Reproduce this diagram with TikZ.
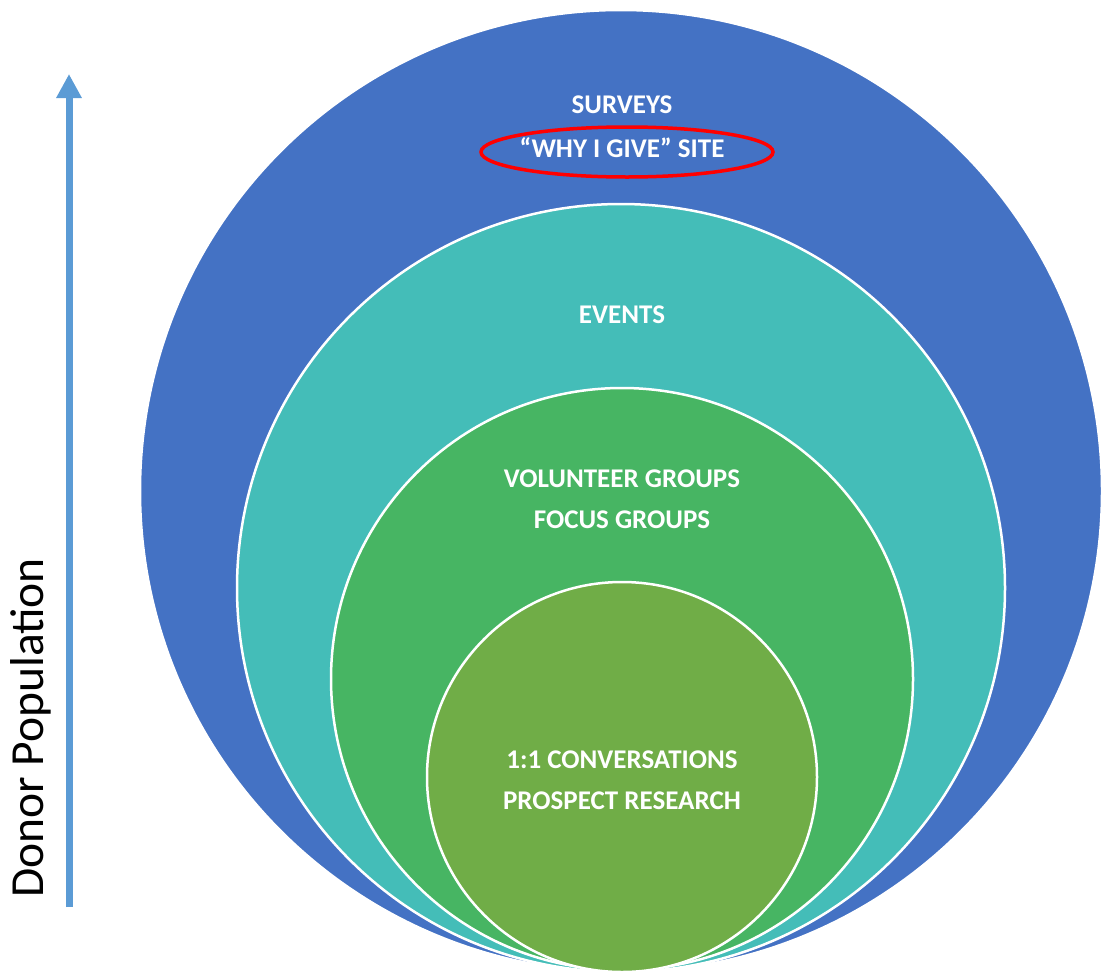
\documentclass[tikz,border=0pt]{standalone}
\usepackage{fontspec}
\setmainfont{Carlito}
\usetikzlibrary{arrows.meta}
\definecolor{cblue}{HTML}{4472C4}
\definecolor{cteal}{HTML}{44BDB8}
\definecolor{cgreen}{HTML}{47B563}
\definecolor{colive}{HTML}{70AD47}
\definecolor{carrow}{HTML}{5B9BD5}
\tikzset{
  ring/.style={circle, draw=white, line width=2.5pt, inner sep=0pt},
  lbl/.style={text=white, font=\fontsize{27}{32}\selectfont\bfseries, align=center},
}
\begin{document}
\begin{tikzpicture}[x=1pt,y=-1pt]
\useasboundingbox (0,0) rectangle (1102,972);
\begin{scope}
\clip (0,0) rectangle (1102,972);
\node[ring, fill=cblue, minimum size=962pt] (c1) at (621,491) {};
\node[ring, fill=cteal, minimum size=768pt] (c2) at (621,588) {};
\node[ring, fill=cgreen, minimum size=582pt] (c3) at (622,679) {};
\node[ring, fill=colive, minimum size=390pt] (c4) at (622,777) {};
\end{scope}
\node[lbl] (t1) at (622,105) {SURVEYS};
\node[lbl] (t2) at (622,148) {“WHY I GIVE” SITE};
\draw[red, line width=3.5pt] (627,152) ellipse [x radius=146, y radius=25];
\node[lbl] (t3) at (622,315) {EVENTS};
\node[lbl] (t4) at (622,479) {VOLUNTEER GROUPS};
\node[lbl] (t5) at (622,520) {FOCUS GROUPS};
\node[lbl] (t6) at (622,760) {1:1 CONVERSATIONS};
\node[lbl] (t7) at (622,801) {PROSPECT RESEARCH};
\coordinate (abot) at (69,907);
\coordinate (atop) at (69,74);
\draw[carrow, line width=7pt, -{Triangle[width=24pt,length=24pt]}] (abot) -- (atop);
\node[rotate=90, font=\fontsize{47.5}{54}\selectfont] (dp) at (31,728) {Donor Population};
\end{tikzpicture}
\end{document}
